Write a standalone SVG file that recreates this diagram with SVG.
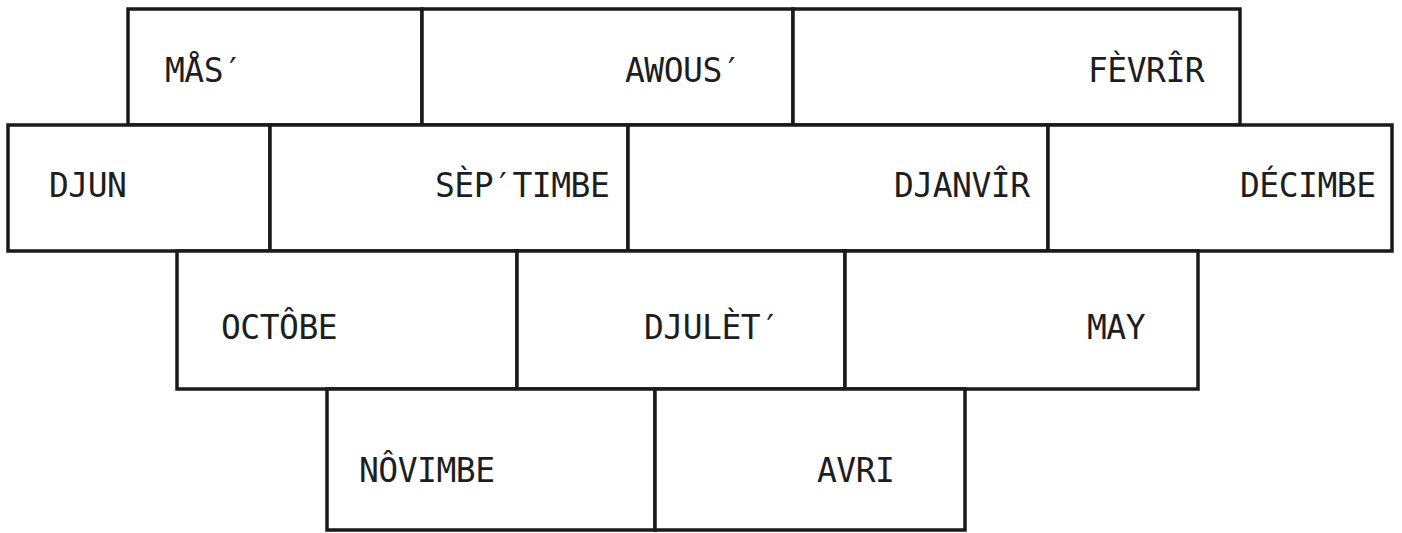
<svg xmlns="http://www.w3.org/2000/svg" width="1402" height="533" viewBox="0 0 1402 533">
<style>
  .box { fill: #ffffff; stroke: #1a1a1a; stroke-width: 3.5; }
  .lbl { font-family: "DejaVu Sans Mono", "Liberation Mono", monospace; font-size: 33px; letter-spacing: -0.5px; fill: #1e1e1e; }
</style>
<rect x="0" y="0" width="1402" height="533" fill="#ffffff"/>
<g id="row1">
  <g id="mas"><rect class="box" x="128" y="9" width="294" height="116"/><text class="lbl" x="165" y="82">MÅS′</text></g>
  <g id="awous"><rect class="box" x="422" y="9" width="371" height="116"/><text class="lbl" x="625" y="82">AWOUS′</text></g>
  <g id="fevrir"><rect class="box" x="793" y="9" width="447" height="116"/><text class="lbl" x="1088" y="82">FÈVRÎR</text></g>
</g>
<g id="row2">
  <g id="djun"><rect class="box" x="8" y="125" width="262" height="126"/><text class="lbl" x="49" y="197">DJUN</text></g>
  <g id="septimbe"><rect class="box" x="270" y="125" width="358" height="126"/><text class="lbl" x="435" y="197">SÈP′TIMBE</text></g>
  <g id="djanvir"><rect class="box" x="628" y="125" width="420" height="126"/><text class="lbl" x="894" y="197">DJANVÎR</text></g>
  <g id="decimbe"><rect class="box" x="1048" y="125" width="344" height="126"/><text class="lbl" x="1240" y="197">DÉCIMBE</text></g>
</g>
<g id="row3">
  <g id="octobe"><rect class="box" x="177" y="251" width="340" height="138"/><text class="lbl" x="221" y="339">OCTÔBE</text></g>
  <g id="djulet"><rect class="box" x="517" y="251" width="328" height="138"/><text class="lbl" x="644" y="339">DJULÈT′</text></g>
  <g id="may"><rect class="box" x="845" y="251" width="353" height="138"/><text class="lbl" x="1087" y="339">MAY</text></g>
</g>
<g id="row4">
  <g id="novimbe"><rect class="box" x="327" y="389" width="328" height="141"/><text class="lbl" x="359" y="482">NÔVIMBE</text></g>
  <g id="avri"><rect class="box" x="655" y="389" width="310" height="141"/><text class="lbl" x="817" y="482">AVRI</text></g>
</g>
<g id="connectors"></g>
</svg>
